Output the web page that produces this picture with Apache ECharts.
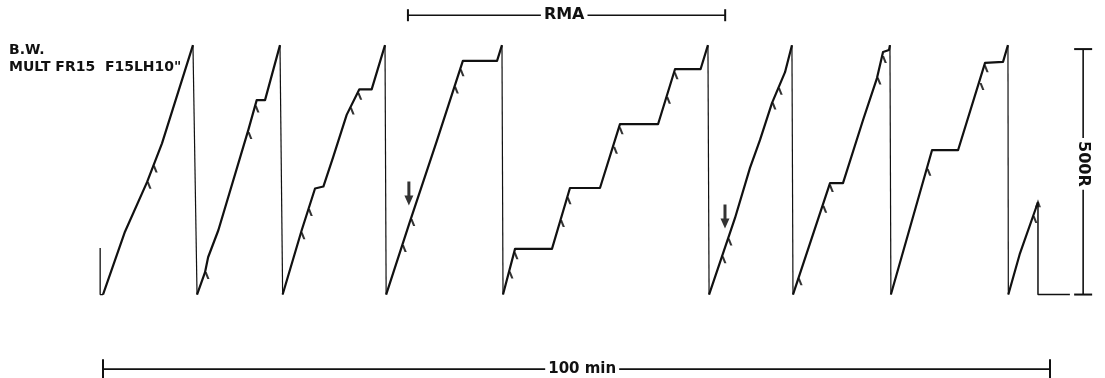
<!DOCTYPE html>
<html>
<head>
<meta charset="utf-8">
<style>
  html, body { margin: 0; padding: 0; background: #fff; }
  #chart { width: 1105px; height: 378px; }
</style>
<script src="https://cdn.jsdelivr.net/npm/echarts@6/dist/echarts.min.js"></script>
</head>
<body>
<div id="chart"></div>
<script>
// ---- Data (x: minutes, y: cumulative responses) ----
const titleLines = ['B.W.', 'MULT FR15  F15LH10"'];

// Rising parts of the cumulative record, one array per pen excursion
const seg1 = [[0,0],[2.32,128],[4.65,229],[6.23,308],[9.50,508]];
const seg2 = [[9.93,0],[10.77,45],[11.1,76],[12.18,131],[15.34,335],[16.23,396],[17.11,396],[18.69,508]];
const seg3 = [[18.97,0],[20.98,131],[22.39,216],[22.56,220],[23.27,220],[24.32,281],[25.73,366],[27.07,418],[28.37,418],[29.78,508]];
const seg4 = [[29.9,0],[32.4,148],[35.2,310],[38.0,476],[41.61,476],[42.13,508]];
const seg5 = [[42.24,0],[43.51,93],[47.41,93],[49.31,217],[52.48,217],[54.59,347],[58.61,347],[60.4,459],[63.1,459],[63.88,508]];
const seg6 = [[64.0,0],[66.74,156],[68.32,258],[69.38,315],[70.64,390],[72.02,453],[72.75,508]];
const seg7 = [[72.86,0],[76.77,227],[78.14,227],[80.25,355],[81.73,441],[82.37,494],[83.0,498],[83.1,508]];
const seg8 = [[83.2,0],[87.54,294],[90.29,294],[93.14,472],[95.04,474],[95.56,508]];
const seg9 = [[95.6,0],[96.83,84],[98.73,188]];
const segments = [seg1, seg2, seg3, seg4, seg5, seg6, seg7, seg8, seg9];

const penStart = [[-0.3,95],[-0.3,0],[0,0]];
const penEnd = [[98.73,188],[98.73,0],[102.1,0]];

// Reinforcement pips
const pips = [
  [4.65,229],[5.3,262],
  [10.77,45],[15.3,330],[16.05,384],
  [20.9,126],[21.68,173],[26.1,380],[26.9,410],
  [31.6,100],[32.5,153],[37.1,423],[37.7,458],
  [42.87,46],[43.4,85],[48.3,151],[49.0,197],[53.9,300],[54.5,340],[59.5,402],[60.3,452],
  [65.36,77],[65.99,113],[70.64,390],[71.3,420],
  [73.4,32],[76.0,180],[76.7,222],[81.73,441],[82.3,485],
  [87.0,255],[92.6,430],[93.05,466],
  [98.2,159]
];

// Injection arrows (drug given)
const arrows = [[32.3,206],[65.68,159]];

// Scale / event bars
const timeBar = [[0,-152],[100,-152]];
const timeLabel = '100 min';
const timeLabelAt = [50.6,-152];
const rmaBar = [[32.2,569],[65.7,569]];
const rmaLabel = 'RMA';
const rmaLabelAt = [48.7,569];
const respBar = [[103.5,0],[103.5,500]];
const respLabel = '500R';
const respLabelAt = [103.5,266];

// ---- Chart ----
const INK = '#111';
const FONT = '"DejaVu Sans", "Liberation Sans", Arial, sans-serif';

function barSeries(bar, labelAt, text, capSize, rotate, size) {
  return {
    type: 'line',
    silent: true,
    showSymbol: true,
    showAllSymbol: true,
    lineStyle: { color: INK, width: 1.6 },
    itemStyle: { color: INK },
    data: [
      { value: bar[0], symbol: 'rect', symbolSize: capSize },
      { value: labelAt, symbol: 'circle', symbolSize: 0,
        label: { show: true, position: 'inside', formatter: text, rotate: rotate,
                 color: INK, fontFamily: FONT, fontWeight: 'bold', fontSize: size,
                 backgroundColor: '#fff', padding: [0, 3] } },
      { value: bar[1], symbol: 'rect', symbolSize: capSize }
    ],
    z: 3
  };
}

const series = [];
segments.forEach(function (seg) {
  series.push({ type: 'line', data: seg, showSymbol: false, silent: true,
    lineStyle: { color: INK, width: 2.2, join: 'round' } });
});
for (let i = 0; i < segments.length - 1; i++) {
  const a = segments[i][segments[i].length - 1];
  const b = segments[i + 1][0];
  series.push({ type: 'line', data: [a, b], showSymbol: false, silent: true,
    lineStyle: { color: INK, width: 1.2 } });
}
series.push({ type: 'line', data: penStart, showSymbol: false, silent: true, lineStyle: { color: INK, width: 1.3 } });
series.push({ type: 'line', data: penEnd, showSymbol: false, silent: true, lineStyle: { color: INK, width: 1.5 } });
series.push({ type: 'scatter', data: [penEnd[0]], silent: true, symbol: 'triangle',
  symbolSize: [6, 8], symbolOffset: [0, 1], itemStyle: { color: INK } });
series.push({ type: 'scatter', data: pips, silent: true,
  symbol: 'path://M0,0 L2.2,0 L5,7 L2.8,7 Z', symbolSize: [5, 7], symbolOffset: [2, 3],
  itemStyle: { color: '#000' } });
series.push({ type: 'scatter', data: arrows, silent: true,
  symbol: 'path://M3,0 L6,0 L6,14 L9,14 L4.5,24 L0,14 L3,14 Z', symbolSize: [9, 24],
  itemStyle: { color: '#000' } });
series.push(barSeries(timeBar, timeLabelAt, timeLabel, [2, 20], 0, 15));
series.push(barSeries(rmaBar, rmaLabelAt, rmaLabel, [2, 12], 0, 16));
series.push(barSeries(respBar, respLabelAt, respLabel, [18, 2], -90, 16));

const chart = echarts.init(document.getElementById('chart'), null, { renderer: 'canvas' });
chart.setOption({
  animation: false,
  backgroundColor: '#fff',
  title: {
    text: titleLines.join('\n'),
    left: 4, top: 37,
    textStyle: { color: INK, fontFamily: FONT, fontWeight: 'bold', fontSize: 14, lineHeight: 17 }
  },
  grid: { left: 55.65, right: 7.65, top: 0, bottom: 0, containLabel: false },
  xAxis: { type: 'value', min: -5, max: 105, show: false },
  yAxis: { type: 'value', min: -170, max: 600, show: false },
  series: series
});
</script>
</body>
</html>
